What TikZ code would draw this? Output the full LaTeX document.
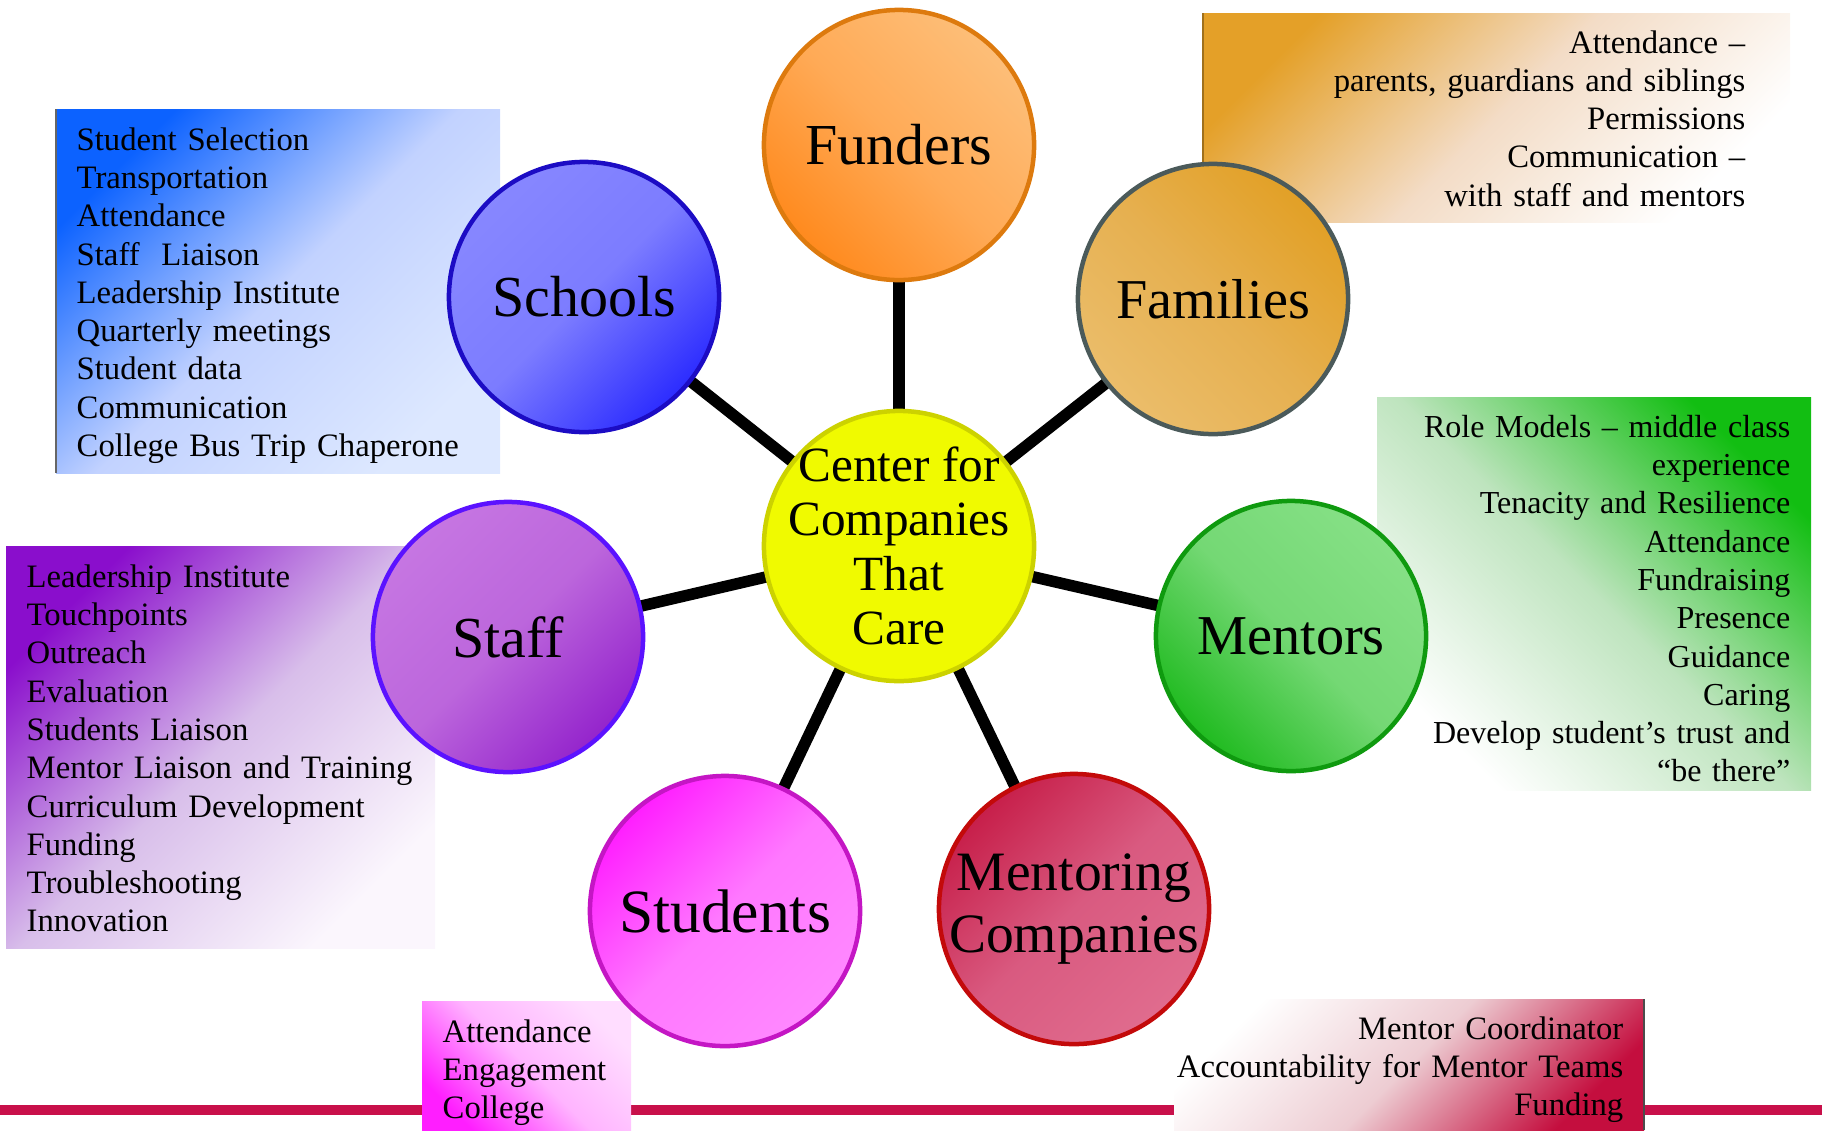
\documentclass[tikz,border=0pt]{standalone}
\usepackage{fontspec}
\setmainfont{Liberation Serif}
\usetikzlibrary{backgrounds}

% circle colours: spot, middle, rest, outline
\definecolor{fundA}{HTML}{FF8A1E}\definecolor{fundB}{HTML}{FFAA56}\definecolor{fundC}{HTML}{FDBE78}\definecolor{fundline}{HTML}{DD7A0E}
\definecolor{schoolA}{HTML}{2C2CFF}\definecolor{schoolB}{HTML}{7C7CFF}\definecolor{schoolC}{HTML}{8787FF}\definecolor{schoolline}{HTML}{1C0CC4}
\definecolor{famA}{HTML}{E2A026}\definecolor{famB}{HTML}{E6B050}\definecolor{famC}{HTML}{EBBD6A}\definecolor{famline}{HTML}{4B5A5A}
\definecolor{hubfill}{HTML}{F0FA00}\definecolor{hubline}{HTML}{CCD200}
\definecolor{staffA}{HTML}{9424CC}\definecolor{staffB}{HTML}{BC66DC}\definecolor{staffC}{HTML}{C676E2}\definecolor{staffline}{HTML}{5B12FF}
\definecolor{mentA}{HTML}{20BB20}\definecolor{mentB}{HTML}{74D874}\definecolor{mentC}{HTML}{86E086}\definecolor{mentline}{HTML}{0F9A0F}
\definecolor{studA}{HTML}{FF1EFF}\definecolor{studB}{HTML}{FF78FF}\definecolor{studC}{HTML}{FF88FF}\definecolor{studline}{HTML}{C416C4}
\definecolor{compA}{HTML}{C71F4A}\definecolor{compB}{HTML}{D95A80}\definecolor{compC}{HTML}{E06C8E}\definecolor{compline}{HTML}{C30A0A}
% panel colours
\definecolor{schoolboxA}{HTML}{0C62FF}\definecolor{schoolboxB}{HTML}{C2D2FF}\definecolor{schoolboxC}{HTML}{DDE8FF}
\definecolor{famboxA}{HTML}{E4A028}\definecolor{famboxB}{HTML}{F3DCC6}
\definecolor{mentboxA}{HTML}{12BE12}\definecolor{mentboxB}{HTML}{BEE4BE}
\definecolor{staffboxA}{HTML}{8A0ECC}\definecolor{staffboxB}{HTML}{D8BEEA}\definecolor{staffboxC}{HTML}{FBF6FD}
\definecolor{studboxA}{HTML}{FF1EFF}\definecolor{studboxB}{HTML}{FFB4FF}\definecolor{studboxC}{HTML}{FFDDFF}
\definecolor{compboxA}{HTML}{C40E3E}\definecolor{compboxB}{HTML}{EDCCD2}
\definecolor{bandred}{HTML}{C8104A}

\tikzset{
  member/.style={circle,minimum size=2.7cm,inner sep=-10pt,line width=0.045cm,align=center,font=\fontsize{16.5}{17.6}\selectfont},
  fade/.style n args={4}{top color=#1,bottom color=#3,middle color=#2,shading angle=#4},
  spoke/.style={line width=0.115cm},
  listtext/.style={inner sep=0pt,text width=6cm,font=\fontsize{9.3}{10.9}\selectfont},
}

\begin{document}
\begin{tikzpicture}[x=0.01cm,y=-0.01cm]
\useasboundingbox (0,0) rectangle (1822,1130);

% hub and partners
\node[member,fill=hubfill,draw=hubline,font=\fontsize{14}{15.5}\selectfont] (hub) at (899,546) {Center for\\Companies\\That\\Care};
\node[member,fade={fundA}{fundB}{fundC}{135},draw=fundline] (funders) at (899,145) {Funders};
\node[member,fade={schoolA}{schoolB}{schoolC}{225},draw=schoolline] (schools) at (584,297) {Schools};
\node[member,fade={famA}{famB}{famC}{-45},draw=famline,font=\fontsize{16}{17.6}\selectfont] (families) at (1213,299) {Families};
\node[member,fade={staffA}{staffB}{staffC}{225},draw=staffline] (staff) at (508,637) {Staff};
\node[member,fade={mentA}{mentB}{mentC}{135},draw=mentline,font=\fontsize{16}{17.6}\selectfont] (mentors) at (1291,636) {Mentors};
\node[member,fade={studA}{studB}{studC}{45},draw=studline,font=\fontsize{17.5}{18}\selectfont] (students) at (725,911) {Students};
\node[member,fade={compA}{compB}{compC}{45},draw=compline,font=\fontsize{15.8}{17.6}\selectfont] (mentcomp) at (1074,909) {Mentoring\\Companies};

% lists of duties
\node[listtext,align=left,anchor=base west] (schoolslist) at (76,150) {Student Selection\\Transportation\\Attendance\\Staff~ Liaison\\Leadership Institute\\Quarterly meetings\\Student data\\Communication\\College Bus Trip Chaperone};
\node[listtext,align=right,anchor=base east] (familieslist) at (1746,53) {Attendance --\\parents, guardians and siblings\\Permissions\\Communication --\\with staff and mentors};
\node[listtext,align=right,anchor=base east,font=\fontsize{9.1}{10.9}\selectfont] (mentorslist) at (1791,437) {Role Models -- middle class\\experience\\Tenacity and Resilience\\Attendance\\Fundraising\\Presence\\Guidance\\Caring\\Develop student’s trust and\\“be there”};
\node[listtext,align=left,anchor=base west] (stafflist) at (26,587) {Leadership Institute\\Touchpoints\\Outreach\\Evaluation\\Students Liaison\\Mentor Liaison and Training\\Curriculum Development\\Funding\\Troubleshooting\\Innovation};
\node[listtext,align=left,anchor=base west] (studentslist) at (442,1042) {Attendance\\Engagement\\College};
\node[listtext,align=right,anchor=base east] (mentcomplist) at (1624,1039) {Mentor Coordinator\\Accountability for Mentor Teams\\Funding};

\begin{pgfonlayer}{background}
\fill[bandred] (0,1105) rectangle (1822,1115);
% shaded panels behind the lists
\shade[fade={schoolboxA}{schoolboxB}{schoolboxC}{45}] (56,109) rectangle (500,473);
\draw[gray!80!black,line width=0.6pt] (56,109) -- (56,473);
\shade[fade={famboxA}{famboxB}{white}{45}] (1203,13) rectangle (1790,222);
\draw[famboxA!70!black,line width=0.6pt] (1203,13) -- (1203,222);
\shade[fade={mentboxA}{mentboxB}{white}{-45}] (1377,397) rectangle (1811,790);
\shade[fade={staffboxA}{staffboxB}{staffboxC}{45}] (6,546) rectangle (435,948);
\shade[fade={studboxA}{studboxB}{studboxC}{135}] (422,1001) rectangle (631,1130);
\shade[fade={compboxA}{compboxB}{white}{225}] (1174,999) rectangle (1644,1130);
\draw[black!70,line width=0.6pt] (1644,999) -- (1644,1130);
% spokes
\foreach \p in {funders,schools,families,staff,mentors,students,mentcomp}
  \draw[spoke] (hub.center) -- (\p.center);
\end{pgfonlayer}
\end{tikzpicture}
\end{document}
